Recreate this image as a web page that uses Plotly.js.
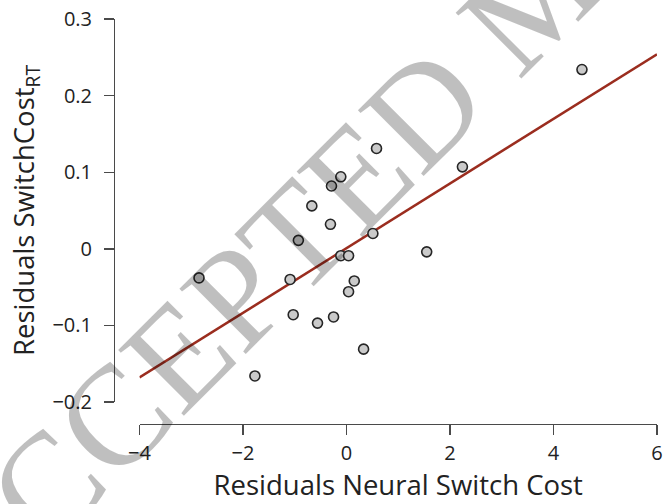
<!DOCTYPE html>
<html>
<head>
<meta charset="utf-8">
<script src="https://cdn.plot.ly/plotly-3.0.1.min.js"></script>
<style>html,body{margin:0;padding:0;background:#fff;}#chart{width:663px;height:504px;}</style>
</head>
<body>
<div id="chart"></div>
<script>
// Data
const residNeural = [-2.85, -1.77, -1.09, -1.03, -0.93, -0.67, -0.56, -0.31, -0.29, -0.25, -0.11, -0.11, 0.04, 0.04, 0.15, 0.33, 0.51, 0.58, 1.55, 2.24, 4.55];
const residSwitchRT = [-0.038, -0.166, -0.040, -0.086, 0.011, 0.056, -0.097, 0.032, 0.082, -0.089, 0.094, -0.009, -0.009, -0.056, -0.042, -0.131, 0.020, 0.131, -0.004, 0.107, 0.234];
const fitX = [-4, 6];
const fitY = [-0.168, 0.254];
const xTickVals = [-4, -2, 0, 2, 4, 6];
const xTickText = ["\u22124", "\u22122", "0", "2", "4", "6"];
const yTickVals = [-0.2, -0.1, 0, 0.1, 0.2, 0.3];
const yTickText = ["\u22120.2", "\u22120.1", "0", "0.1", "0.2", "0.3"];
const xTitle = "Residuals Neural Switch Cost";
const yTitle = "Residuals SwitchCost<sub>RT</sub>";
const watermark = "ACCEPTED MANUSCRIPT";

const W = 663, H = 504;
const font = "Open Sans, Noto Sans, sans-serif";

const traces = [
  {
    x: fitX, y: fitY, type: "scatter", mode: "lines",
    line: {color: "#9b2d1f", width: 2.5},
    hoverinfo: "skip", showlegend: false
  },
  {
    x: residNeural, y: residSwitchRT, type: "scatter", mode: "markers",
    marker: {size: 10, color: "#cacaca", line: {color: "#262626", width: 1.6}},
    showlegend: false
  }
];

const axisCommon = {
  showgrid: false, zeroline: false, showline: true,
  linecolor: "#4a4a4a", linewidth: 1.4,
  ticks: "outside", ticklen: 10, tickwidth: 1.4, tickcolor: "#4a4a4a",
  tickfont: {family: font, size: 20, color: "#222"},
  tickmode: "array", automargin: false, fixedrange: true,
  ticklabeloverflow: "allow"
};

const layout = {
  width: W, height: H,
  margin: {l: 0, r: 0, t: 0, b: 0},
  paper_bgcolor: "#fff", plot_bgcolor: "#fff",
  showlegend: false,
  xaxis: Object.assign({}, axisCommon, {
    range: [-4, 6],
    domain: [139.5 / W, 657 / W],
    anchor: "free", position: 1 - 424 / H,
    tickvals: xTickVals, ticktext: xTickText,
    ticklabelstandoff: 1,
    title: {text: xTitle, font: {family: font, size: 27.5, color: "#222"}, standoff: 2}
  }),
  yaxis: Object.assign({}, axisCommon, {
    range: [-0.2, 0.3],
    domain: [1 - 402 / H, 1 - 19 / H],
    anchor: "free", position: 114 / W,
    tickvals: yTickVals, ticktext: yTickText,
    ticklabelstandoff: 8,
    title: {text: yTitle, font: {family: font, size: 27.5, color: "#222"}, standoff: 8}
  }),
  annotations: [
    {
      text: watermark, xref: "paper", yref: "paper",
      x: 536 / W, y: 1 + 4 / H, xanchor: "center", yanchor: "middle",
      showarrow: false, textangle: -45,
      font: {family: "Liberation Serif, DejaVu Serif, serif", size: 142, color: "rgba(0,0,0,0.25)"}
    }
  ]
};

Plotly.newPlot("chart", traces, layout, {staticPlot: true, displayModeBar: false});
</script>
</body>
</html>
